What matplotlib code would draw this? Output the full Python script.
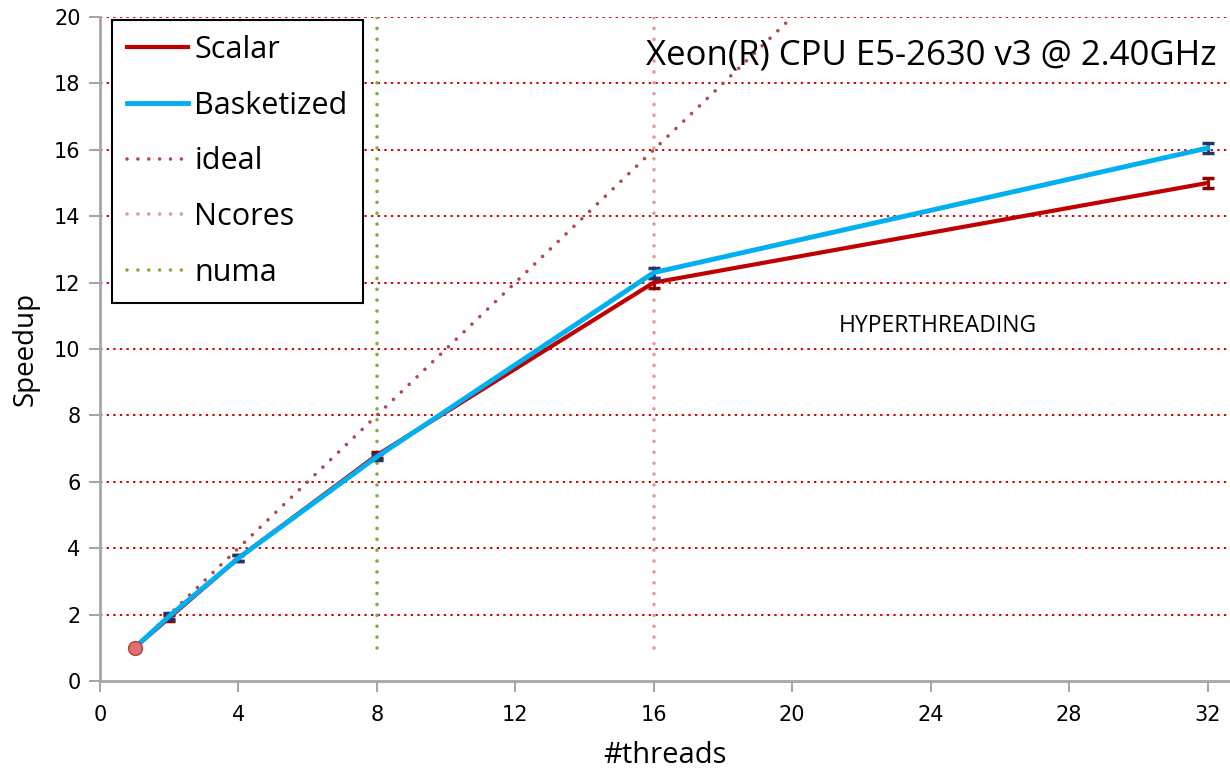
import matplotlib
matplotlib.use("Agg")
import matplotlib.pyplot as plt
from matplotlib.lines import Line2D

# measured speedups
threads = [1, 2, 4, 8, 16, 32]
scalar = [1.0, 1.9, 3.7, 6.8, 12.0, 15.0]
scalar_err = [0.05, 0.1, 0.1, 0.1, 0.15, 0.15]
basket = [1.0, 1.95, 3.7, 6.75, 12.3, 16.05]
basket_err = [0.05, 0.1, 0.1, 0.1, 0.15, 0.15]

ideal_x = [1, 20]
ideal_y = [1, 20]
ncores_x = [16, 16]
numa_x = [8, 8]
vline_y = [1, 20]

title = "Xeon(R) CPU E5-2630 v3 @ 2.40GHz"
note = "HYPERTHREADING"

txt = ["Open Sans", "DejaVu Sans"]

fig = plt.figure(figsize=(12.3, 7.72), dpi=100)
ax = fig.add_axes([0.0813, 0.118, 0.9187, 0.860])

dots = (0, (0.01, 3.0))
c_ideal, c_ncores, c_numa = "#b5474a", "#e39a9b", "#7fae3e"
ax.plot(ideal_x, ideal_y, color=c_ideal, lw=2.6, linestyle=dots,
        dash_capstyle="round", zorder=3)
ax.plot(ncores_x, vline_y, color=c_ncores, lw=2.6, linestyle=dots,
        dash_capstyle="round", zorder=3)
ax.plot(numa_x, vline_y, color=c_numa, lw=2.6, linestyle=dots,
        dash_capstyle="round", zorder=3)

ax.errorbar(threads, scalar, yerr=scalar_err, color="#c00000", lw=3,
            ecolor="#8b0000", elinewidth=2, capsize=4, capthick=2.5, zorder=4)
ax.errorbar(threads, basket, yerr=basket_err, color="#00b0f0", lw=3.5,
            ecolor="#1f3864", elinewidth=2, capsize=4, capthick=2.5, zorder=5)
ax.plot([1], [1], marker="o", ms=10, mfc="#e07070", mec="#b04040", zorder=6)

ax.set_xlim(0, 32.65)
ax.set_ylim(0, 20)
ax.set_xticks(range(0, 33, 4))
ax.set_yticks(range(0, 21, 2))
for y in range(2, 21, 2):
    ax.axhline(y, color="#d00000", lw=1.4, linestyle=(0, (1.2, 2.2)), zorder=1)

for s in ["top", "right"]:
    ax.spines[s].set_visible(False)
for s in ["left", "bottom"]:
    ax.spines[s].set_color("#a6a6a6")
    ax.spines[s].set_linewidth(2)
ax.tick_params(colors="#a6a6a6", width=1.5, length=8, labelcolor="black",
               labelsize=15, pad=6)
ax.tick_params(axis="x", pad=9)

ax.set_xlabel("#threads", fontsize=21, family=txt, labelpad=12)
ax.set_ylabel("Speedup", fontsize=20, family=txt, labelpad=10)

ax.text(32.25, 18.85, title, ha="right", va="center", fontsize=25, family=txt)
ax.text(24.2, 10.7, note, ha="center", va="center", fontsize=16.5, family=txt)

handles = [Line2D([], [], color="#c00000", lw=3),
           Line2D([], [], color="#00b0f0", lw=3.5),
           Line2D([], [], color=c_ideal, lw=2.6, linestyle=dots, dash_capstyle="round"),
           Line2D([], [], color=c_ncores, lw=2.6, linestyle=dots, dash_capstyle="round"),
           Line2D([], [], color=c_numa, lw=2.6, linestyle=dots, dash_capstyle="round")]
labels = ["Scalar", "Basketized", "ideal", "Ncores", "numa"]
leg = ax.legend(handles, labels, loc="upper left", bbox_to_anchor=(0.0106, 0.996),
                borderaxespad=0,
                prop={"family": txt, "size": 22}, frameon=True, fancybox=False,
                edgecolor="black", framealpha=1, handlelength=2.0,
                handletextpad=0.2, labelspacing=0.84, borderpad=0.5)
leg.get_frame().set_linewidth(1.5)

fig.savefig("out.png", dpi=100)
